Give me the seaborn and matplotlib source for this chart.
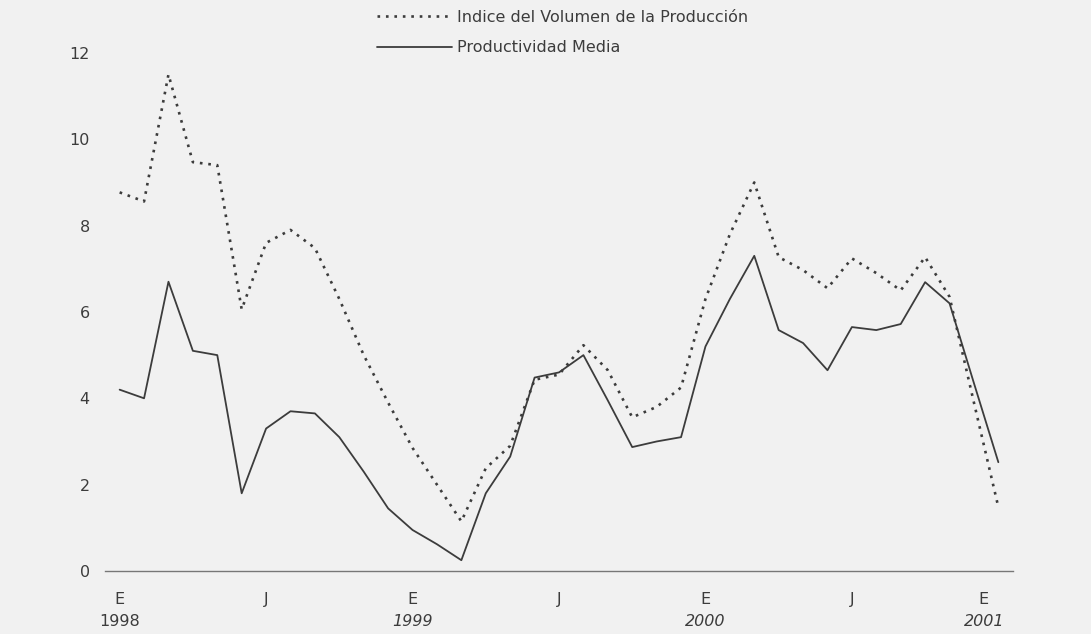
import numpy as np
import pandas as pd
import seaborn as sns
import matplotlib.pyplot as plt

# monthly series, Jan 1998 .. Jan 2001
meses = np.arange(37)
indice_volumen = [8.77, 8.56, 11.5, 9.47, 9.4, 6.06, 7.6, 7.9, 7.48, 6.3,
                  5.0, 3.9, 2.85, 2.0, 1.15, 2.38, 2.9, 4.43, 4.55, 5.23,
                  4.65, 3.56, 3.8, 4.25, 6.3, 7.8, 9.0, 7.27, 6.97, 6.55,
                  7.24, 6.9, 6.5, 7.27, 6.35, 3.9, 1.48]
productividad = [4.2, 4.0, 6.7, 5.1, 5.0, 1.8, 3.3, 3.7, 3.65, 3.1,
                 2.3, 1.45, 0.95, 0.62, 0.25, 1.8, 2.65, 4.48, 4.6, 5.0,
                 3.95, 2.87, 3.0, 3.1, 5.2, 6.3, 7.3, 5.58, 5.28, 4.65,
                 5.65, 5.58, 5.72, 6.69, 6.2, 4.35, 2.52]

label_pos = [0, 6, 12, 18, 24, 30, 35.4]
label_mes = ["E", "J", "E", "J", "E", "J", "E"]
year_pos = [0, 12, 24, 35.4]
year_lab = ["1998", "1999", "2000", "2001"]
tick_pos = np.arange(-0.5, 36, 4)
y_ticks = [0, 2, 4, 6, 8, 10, 12]

df = pd.DataFrame({"mes": meses, "indice": indice_volumen,
                   "prod": productividad})

sns.set_style("white")
plt.rcParams["font.family"] = ["DejaVu Sans"]
ink = "#3c3c3c"
paper = "#f1f1f1"
fs = 11.5

fig = plt.figure(figsize=(10.91, 6.34), dpi=100, facecolor=paper)
ax = fig.add_axes([105 / 1091, 63 / 634, 908 / 1091, 544 / 634])
ax.set_facecolor(paper)

sns.lineplot(data=df, x="mes", y="indice", ax=ax, color=ink, lw=1.9,
             linestyle=(0, (1, 2.2)),
             label="Indice del Volumen de la Producción")
sns.lineplot(data=df, x="mes", y="prod", ax=ax, color=ink, lw=1.3,
             label="Productividad Media")

ax.set_xlim(-0.6, 36.6)
ax.set_ylim(0, 12.6)
ax.set_xlabel("")
ax.set_ylabel("")

sns.despine(ax=ax, left=True)
ax.spines["bottom"].set_color("#777777")
ax.spines["bottom"].set_linewidth(1.0)

ax.set_yticks(y_ticks)
ax.tick_params(axis="y", length=0, pad=11, labelsize=fs, labelcolor=ink)
ax.xaxis.remove_overlapping_locs = False
ax.set_xticks(tick_pos)
ax.set_xticklabels([])
ax.tick_params(axis="x", which="major", length=4, width=1,
               color="#777777", direction="out")
ax.set_xticks(label_pos, minor=True)
ax.set_xticklabels(label_mes, minor=True)
ax.tick_params(axis="x", which="minor", length=0, pad=15, labelsize=fs,
               labelcolor=ink)

for x, lab in zip(year_pos, year_lab):
    ax.text(x, -51 / 43.2, lab, ha="center", va="center", fontsize=fs,
            color=ink, style="normal" if lab == "1998" else "italic",
            transform=ax.transData, clip_on=False)

handles, labels = ax.get_legend_handles_labels()
ax.get_legend().remove()
fig.legend(handles, labels, loc="upper left",
           bbox_to_anchor=(377 / 1091, 1 - 10 / 634), frameon=False,
           fontsize=fs, labelcolor=ink, handlelength=4.7,
           handletextpad=0.3, labelspacing=0.95, borderpad=0,
           borderaxespad=0)

fig.savefig("out.png", dpi=100, facecolor=paper)
